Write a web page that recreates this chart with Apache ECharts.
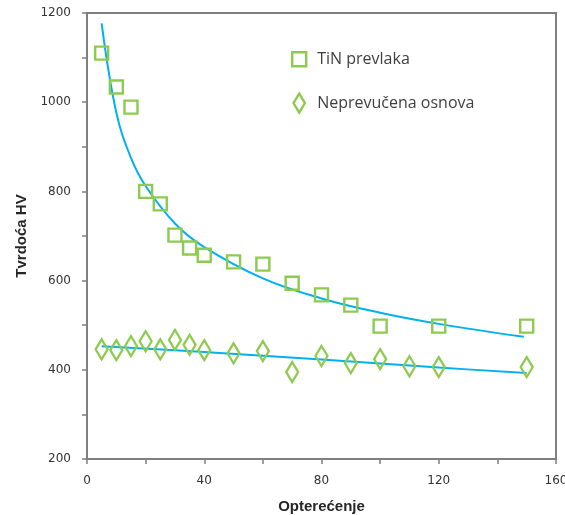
<!DOCTYPE html>
<html>
<head>
<meta charset="utf-8">
<script src="https://cdn.jsdelivr.net/npm/echarts@6/dist/echarts.min.js"></script>
<style>
  html, body { margin: 0; padding: 0; background: #fff; }
  #chart { width: 565px; height: 515px; }
</style>
</head>
<body>
<div id="chart"></div>
<script>
// measured points
const tinX = [5, 10, 15, 20, 25, 30, 35, 40, 50, 60, 70, 80, 90, 100, 120, 150];
const tinY = [1110, 1034, 989, 800, 772, 702, 673, 657, 642, 637, 594, 568, 545, 498, 498, 498];

const baseX = [5, 10, 15, 20, 25, 30, 35, 40, 50, 60, 70, 80, 90, 100, 110, 120, 150];
const baseY = [446, 444, 453, 464, 446, 467, 456, 444, 437, 442, 395, 431, 415, 424, 408, 406, 406];

// trend lines
const tinTrendX = [5, 10, 15, 20, 30, 40, 60, 80, 100, 120, 149];
const tinTrendY = [1177, 977, 875, 812, 728, 675, 605, 560, 528, 503, 474];

const baseTrendX = [5, 40, 80, 120, 150];
const baseTrendY = [453, 440, 423, 405, 393];

const xLabels = [0, 40, 80, 120, 160];
const yLabels = [200, 400, 600, 800, 1000, 1200];

const green = '#8DCB4F';
const blue = '#00B0F0';
const axisGray = '#7F7F7F';

const zip = (xs, ys) => xs.map((x, i) => [x, ys[i]]);

const chart = echarts.init(document.getElementById('chart'));

const hollow = { color: 'rgba(255,255,255,0)', borderColor: green, borderWidth: 2.4, opacity: 1 };

chart.setOption({
  animation: false,
  grid: {
    left: 87,
    right: 9,
    top: 13,
    bottom: 56,
    outerBoundsMode: 'none',
    show: true,
    borderColor: axisGray,
    borderWidth: 2,
  },
  legend: {
    orient: 'vertical',
    left: 286,
    top: 46,
    padding: 5,
    itemGap: 25,
    itemWidth: 14,
    itemHeight: 19,
    symbolKeepAspect: true,
    textStyle: { fontFamily: 'Open Sans', fontSize: 16, color: '#404040', padding: [0, 0, 0, 6] },
    data: [
      { name: 'TiN prevlaka', icon: 'path://M0,0L10,0L10,10L0,10Z', itemStyle: hollow },
      { name: 'Neprevučena osnova', icon: 'path://M6,0L12,10L6,20L0,10Z', itemStyle: hollow },
    ],
  },
  xAxis: {
    type: 'value',
    min: 0,
    max: 160,
    interval: 20,
    name: 'Opterećenje',
    nameLocation: 'middle',
    nameGap: 40,
    nameTextStyle: { fontFamily: 'Liberation Sans', fontWeight: 'bold', fontSize: 15, color: '#262626' },
    splitLine: { show: false },
    axisLine: { lineStyle: { color: axisGray, width: 2 } },
    axisTick: { inside: false, length: 5, lineStyle: { color: axisGray, width: 1.5 } },
    axisLabel: {
      margin: 16,
      fontFamily: 'DejaVu Sans',
      fontSize: 12,
      color: '#333',
      formatter: v => (xLabels.includes(v) ? String(v) : ''),
    },
  },
  yAxis: {
    type: 'value',
    min: 200,
    max: 1200,
    interval: 100,
    name: 'Tvrdoća HV',
    nameLocation: 'middle',
    nameGap: 56,
    nameTextStyle: { fontFamily: 'Liberation Sans', fontWeight: 'bold', fontSize: 15, color: '#262626' },
    splitLine: { show: false },
    axisLine: { show: true, lineStyle: { color: axisGray, width: 2 } },
    axisTick: { show: true, length: 5, lineStyle: { color: axisGray, width: 1.5 } },
    axisLabel: {
      margin: 16,
      fontFamily: 'DejaVu Sans',
      fontSize: 12,
      color: '#333',
      formatter: v => (yLabels.includes(v) ? String(v) : ''),
    },
  },
  series: [
    {
      name: 'TiN prevlaka trend',
      type: 'line',
      smooth: 0.4,
      showSymbol: false,
      lineStyle: { color: blue, width: 2 },
      data: zip(tinTrendX, tinTrendY),
      z: 1,
    },
    {
      name: 'Neprevučena osnova trend',
      type: 'line',
      smooth: 0.4,
      showSymbol: false,
      lineStyle: { color: blue, width: 2 },
      data: zip(baseTrendX, baseTrendY),
      z: 1,
    },
    {
      name: 'TiN prevlaka',
      type: 'scatter',
      symbol: 'rect',
      symbolSize: 13,
      itemStyle: hollow,
      data: zip(tinX, tinY),
      z: 3,
    },
    {
      name: 'Neprevučena osnova',
      type: 'scatter',
      symbol: 'diamond',
      symbolSize: [12, 20],
      itemStyle: hollow,
      data: zip(baseX, baseY),
      z: 3,
    },
  ],
});
</script>
</body>
</html>
